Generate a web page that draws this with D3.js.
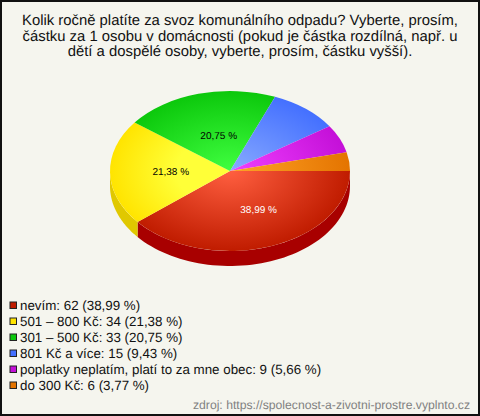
<!DOCTYPE html>
<html><head><meta charset="utf-8">
<script src="https://cdn.jsdelivr.net/npm/d3@7"></script>
<style>html,body{margin:0;padding:0;background:#fff}svg{display:block}text{font-family:"Liberation Sans",Arial,sans-serif;text-rendering:geometricPrecision}</style>
</head><body><svg id="c" width="480" height="416"></svg>
<script>
const titleLines = ["Kolik ročně platíte za svoz komunálního odpadu? Vyberte, prosím,","částku za 1 osobu v domácnosti (pokud je částka rozdílná, např. u","dětí a dospělé osoby, vyberte, prosím, částku vyšší)."];
const categories = ["nevím","501 – 800 Kč","301 – 500 Kč","801 Kč a více","poplatky neplatím, platí to za mne obec","do 300 Kč"];
const counts = [62,34,33,15,9,6];
const shares = ["38,99","21,38","20,75","9,43","5,66","3,77"];
const innerColors = ["#ff5f40","#ffff38","#40ff40","#88aaff","#f040ff","#ffa428"];
const outerColors = ["#c01c00","#ffe400","#0cc80c","#4470ff","#c410d8","#e47400"];
const sideColors = ["#a80000","#e0c800","#0a9a0a","#3050c0","#9000a0","#b05000"];
const innerStops = [0,.45,0,0,0,0];
const labelColors = ["#fff","#000","#000"];
const labelRadiusX = [.705,.494,.357];
const labelRadiusY = [.505,.1,.466];
const sourceText = "zdroj: https://spolecnost-a-zivotni-prostre.vyplnto.cz";

const svg = d3.select("#c");
svg.append("rect").attr("x",1).attr("y",1).attr("width",478).attr("height",414).attr("fill","#f5f5ee").attr("stroke","#111").attr("stroke-width",2);

const cx=230, cy=171, rx=120, ry=80, depth=15;
const defs = svg.append("defs");
outerColors.forEach((c,i)=>{
  const g = defs.append("radialGradient").attr("id","g"+i).attr("gradientUnits","userSpaceOnUse")
    .attr("cx",0).attr("cy",0).attr("r",rx);
  g.append("stop").attr("offset",innerStops[i]).attr("stop-color",innerColors[i]);
  g.append("stop").attr("offset",1).attr("stop-color",c);
});

const arcs = d3.pie().sort(null).startAngle(Math.PI/2).endAngle(Math.PI*2.5)(counts);
const px = a => rx*Math.sin(a), py = a => -ry*Math.cos(a);

const pieG = svg.append("g").attr("transform",`translate(${cx},${cy})`);
const line = d3.line().x(d=>d[0]).y(d=>d[1]);
arcs.forEach((d,i)=>{
  const a0=Math.max(d.startAngle,Math.PI/2), a1=Math.min(d.endAngle,Math.PI*1.5);
  if(a1<=a0) return;
  const as=d3.range(0,61).map(k=>a0+(a1-a0)*k/60);
  const top=as.map(a=>[px(a),py(a)]);
  const bot=as.slice().reverse().map(a=>[px(a),py(a)+depth]);
  pieG.append("path").attr("d",line(top.concat(bot))+"Z").attr("fill",sideColors[i]);
});
const arcGen = d3.arc().innerRadius(0).outerRadius(rx);
const topG = pieG.append("g").attr("transform",`scale(1,${ry/rx})`);
arcs.forEach((d,i)=>{
  topG.append("path").attr("d",arcGen(d)).attr("fill",`url(#g${i})`);
});
[0,1,2].forEach(i=>{
  const d=arcs[i], m=(d.startAngle+d.endAngle)/2;
  pieG.append("text").attr("x",px(m)*labelRadiusX[i]).attr("y",py(m)*labelRadiusY[i]+3.5).attr("text-anchor","middle")
    .attr("font-size",10).attr("fill",labelColors[i]).text(shares[i]+" %");
});

svg.append("g").selectAll("text").data(titleLines).join("text")
  .attr("x",240).attr("y",(d,i)=>25+i*15.5).attr("text-anchor","middle")
  .attr("font-size",14.85).attr("fill","#111").text(d=>d);

const rowY = d3.scaleLinear().domain([0,5]).range([305,385]);
const lg = svg.append("g").selectAll("g").data(categories).join("g")
  .attr("transform",(d,i)=>`translate(0,${rowY(i)})`);
lg.append("rect").attr("x",10).attr("y",-3).attr("width",6.5).attr("height",6.5).attr("stroke","#222").attr("stroke-width",1)
  .attr("fill",(d,i)=>outerColors[i]);
lg.append("text").attr("x",20).attr("y",4.5).attr("font-size",13.35).attr("fill","#111")
  .text((d,i)=>`${d}: ${counts[i]} (${shares[i]} %)`);

svg.append("text").attr("x",470).attr("y",409).attr("text-anchor","end").attr("font-size",12.2).attr("fill","#808080").text(sourceText);
</script></body></html>
